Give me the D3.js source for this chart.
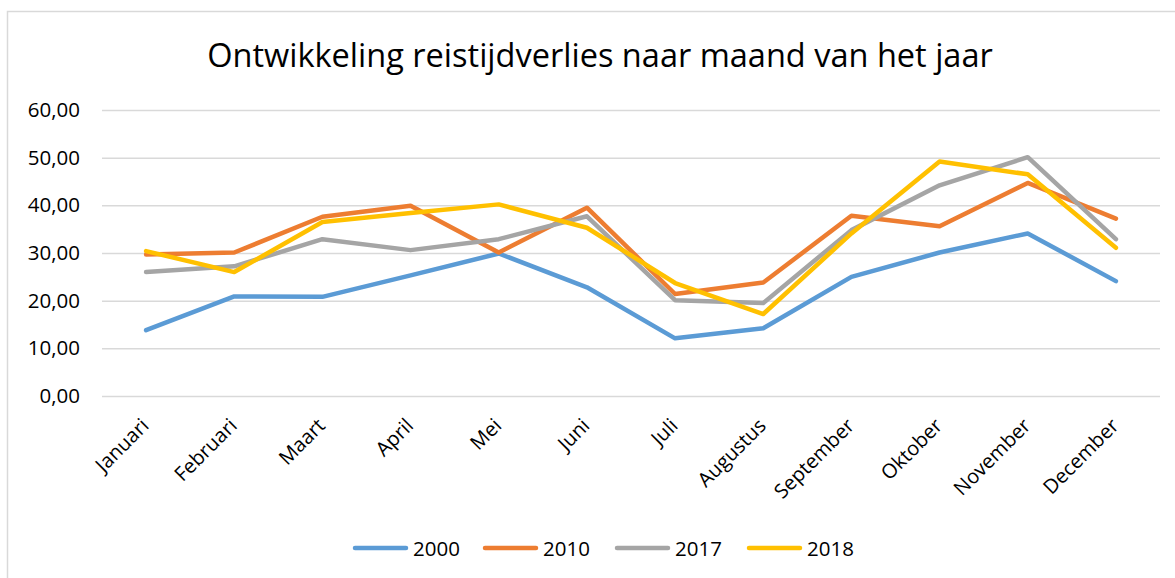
<!DOCTYPE html>
<html>
<head>
<meta charset="utf-8">
<script src="https://cdn.jsdelivr.net/npm/d3@7"></script>
<style>
  html, body { margin: 0; padding: 0; background: #fff; }
  svg { display: block; font-family: "Open Sans", "Noto Sans", sans-serif; }
</style>
</head>
<body>
<svg id="chart" width="1175" height="578"></svg>
<script>
// Reistijdverlies per maand, vier jaren
const months = ["Januari", "Februari", "Maart", "April", "Mei", "Juni", "Juli",
                "Augustus", "September", "Oktober", "November", "December"];
const years = ["2000", "2010", "2017", "2018"];
const values2000 = [13.8, 20.9, 20.8, 25.3, 29.9, 22.8, 12.1, 14.2, 25.0, 30.1, 34.1, 24.1];
const values2010 = [29.7, 30.1, 37.6, 39.9, 30.1, 39.5, 21.4, 23.8, 37.8, 35.6, 44.7, 37.2];
const values2017 = [26.0, 27.2, 32.9, 30.6, 32.9, 37.7, 20.1, 19.5, 34.8, 44.2, 50.1, 32.9];
const values2018 = [30.4, 26.0, 36.5, 38.4, 40.2, 35.3, 23.7, 17.2, 34.1, 49.2, 46.5, 31.1];
const yTicks = [0, 10, 20, 30, 40, 50, 60];
const colors = ["#5B9BD5", "#ED7D31", "#A5A5A5", "#FFC000"];

const series = years.map((y, i) => ({
  name: y,
  color: colors[i],
  values: [values2000, values2010, values2017, values2018][i]
}));

const svg = d3.select("#chart");

// chart frame
svg.append("rect")
  .attr("x", 7.5).attr("y", 11.5)
  .attr("width", 1300).attr("height", 700)
  .attr("fill", "#fff").attr("stroke", "#d9d9d9").attr("stroke-width", 1.5);

const plot = { left: 102, right: 1160, top: 110, bottom: 396 };

const x = d3.scaleBand().domain(months).range([plot.left, plot.right]);
const y = d3.scaleLinear().domain([0, 60]).range([plot.bottom, plot.top]);

// title
const title = svg.append("text")
  .attr("x", 600).attr("y", 67)
  .attr("text-anchor", "middle")
  .attr("font-size", 32)
  .attr("fill", "#000")
  .text("Ontwikkeling reistijdverlies naar maand van het jaar");
const tw = title.node().getComputedTextLength();
title.attr("font-size", 32 * 786 / tw);

// gridlines
const yAxis = d3.axisLeft(y).tickValues(yTicks)
  .tickSize(-(plot.right - plot.left))
  .tickPadding(22)
  .tickFormat(d => d3.format(".2f")(d).replace(".", ","));

const gy = svg.append("g")
  .attr("transform", `translate(${plot.left},0)`)
  .call(yAxis);
gy.select(".domain").remove();
gy.selectAll(".tick line").attr("stroke", "#d9d9d9").attr("stroke-width", 1.5);
gy.selectAll(".tick text")
  .attr("font-size", 20.5)
  .attr("fill", "#000")
  .attr("font-family", "Open Sans, sans-serif");

// category labels
const xAxis = d3.axisBottom(x).tickSize(0).tickPadding(0);
const gx = svg.append("g")
  .attr("transform", `translate(0,${plot.bottom})`)
  .call(xAxis);
gx.select(".domain").remove();
gx.selectAll(".tick text")
  .attr("font-size", 20)
  .attr("fill", "#000")
  .attr("font-family", "Open Sans, sans-serif")
  .attr("text-anchor", "end")
  .attr("dy", 0)
  .attr("transform", "translate(4,31) rotate(-45)");

// lines
const line = d3.line()
  .x((d, i) => x(months[i]) + x.bandwidth() / 2)
  .y(d => y(d));

svg.append("g").selectAll("path")
  .data(series)
  .join("path")
  .attr("d", d => line(d.values))
  .attr("fill", "none")
  .attr("stroke", d => d.color)
  .attr("stroke-width", 4.5)
  .attr("stroke-linejoin", "round")
  .attr("stroke-linecap", "round");

// legend
const legendX = [355, 485, 617, 749];
const lg = svg.append("g").selectAll("g")
  .data(series)
  .join("g")
  .attr("transform", (d, i) => `translate(${legendX[i]},548)`);
lg.append("line")
  .attr("x1", 0).attr("x2", 51)
  .attr("stroke", d => d.color)
  .attr("stroke-width", 4.5)
  .attr("stroke-linecap", "round");
lg.append("text")
  .attr("x", 58).attr("y", 7.5)
  .attr("font-size", 20.5)
  .attr("fill", "#000")
  .text(d => d.name);
</script>
</body>
</html>
